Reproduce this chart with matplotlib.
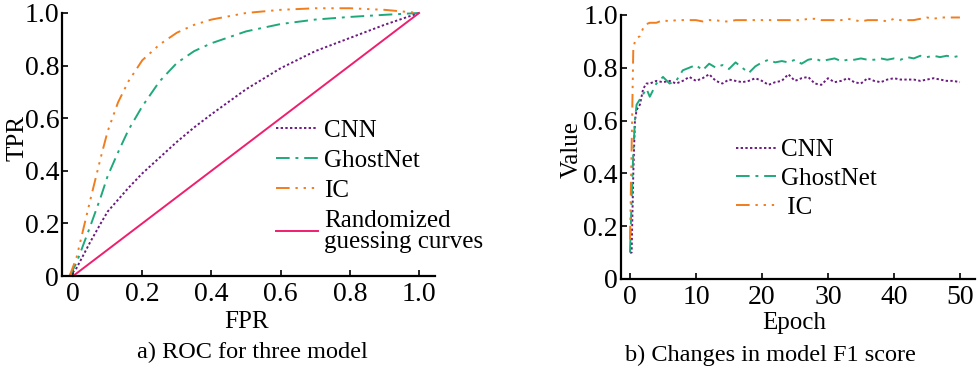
import matplotlib
matplotlib.use('Agg')
import matplotlib.pyplot as plt

plt.rcParams['font.family'] = ['Liberation Serif', 'DejaVu Serif']

# ---- ROC data (panel a) ----
fpr = [-0.01, 0.01, 0.03, 0.05, 0.08, 0.1, 0.13, 0.16, 0.2, 0.25, 0.3, 0.35,
       0.4, 0.5, 0.6, 0.7, 0.8, 0.9, 1.0]
tpr_cnn = [0, 0.03, 0.08, 0.13, 0.20, 0.245, 0.29, 0.335, 0.39, 0.45, 0.51,
           0.565, 0.615, 0.71, 0.79, 0.855, 0.905, 0.955, 1.0]
tpr_ghost = [0, 0.05, 0.12, 0.19, 0.30, 0.38, 0.47, 0.555, 0.645, 0.74, 0.81,
             0.855, 0.885, 0.93, 0.958, 0.975, 0.985, 0.993, 1.0]
tpr_ic = [0, 0.07, 0.18, 0.29, 0.45, 0.55, 0.66, 0.74, 0.82, 0.88, 0.925,
          0.955, 0.975, 1.0, 1.012, 1.018, 1.018, 1.012, 1.0]
rand_x = [0, 1.0]
rand_y = [0, 1.0]

# ---- F1 data (panel b) ----
epochs = [0, 0.25, 0.5, 0.75, 1, 1.5, 2, 2.5] + list(range(3, 51))
f1_cnn = [0.10, 0.10, 0.40, 0.60, 0.64, 0.66, 0.72, 0.74,
          0.74, 0.75, 0.745, 0.75, 0.74, 0.75, 0.765, 0.75, 0.76, 0.775,
          0.75, 0.74, 0.755, 0.75, 0.745, 0.75, 0.76, 0.75, 0.735, 0.745,
          0.75, 0.775, 0.75, 0.76, 0.765, 0.74, 0.735, 0.76, 0.745, 0.75,
          0.76, 0.745, 0.74, 0.76, 0.75, 0.745, 0.755, 0.76, 0.755, 0.755,
          0.755, 0.75, 0.755, 0.76, 0.755, 0.75, 0.75, 0.745]
f1_ghost = [0.10, 0.30, 0.48, 0.60, 0.66, 0.68, 0.70, 0.72,
            0.69, 0.74, 0.765, 0.74, 0.75, 0.79, 0.80, 0.81, 0.79, 0.815,
            0.80, 0.81, 0.795, 0.82, 0.80, 0.78, 0.805, 0.82, 0.83, 0.82,
            0.825, 0.82, 0.83, 0.815, 0.83, 0.835, 0.825, 0.83, 0.835, 0.825,
            0.83, 0.83, 0.835, 0.83, 0.83, 0.835, 0.83, 0.835, 0.83, 0.84,
            0.835, 0.845, 0.84, 0.845, 0.84, 0.845, 0.84, 0.845]
f1_ic = [0.15, 0.50, 0.87, 0.90, 0.91, 0.92, 0.95, 0.965,
         0.97, 0.97, 0.98, 0.975, 0.98, 0.98, 0.98, 0.98, 0.975, 0.98,
         0.98, 0.975, 0.975, 0.98, 0.98, 0.98, 0.98, 0.98, 0.98, 0.98,
         0.98, 0.98, 0.98, 0.98, 0.985, 0.985, 0.98, 0.98, 0.98, 0.98,
         0.985, 0.98, 0.975, 0.98, 0.98, 0.98, 0.975, 0.985, 0.98, 0.98,
         0.98, 0.985, 0.99, 0.985, 0.99, 0.99, 0.99, 0.99]

c_cnn = '#6b1a80'
c_ghost = '#1fa97b'
c_ic = '#f07d1e'
c_rand = '#f01e6e'

ls_cnn = (0, (1.2, 1.2))
ls_ghost = (0, (7, 3, 1.5, 3))
ls_ic = (0, (7, 3, 1.2, 3, 1.2, 3, 1.2, 3))
serif = ['Liberation Serif', 'DejaVu Serif']

fig = plt.figure(figsize=(9.79, 3.71), dpi=100)
ax1 = fig.add_axes([0.0633, 0.256, 0.381, 0.709])
ax2 = fig.add_axes([0.634, 0.248, 0.362, 0.712])

ax1.plot(fpr, tpr_cnn, color=c_cnn, ls=ls_cnn, lw=1.4, label='CNN', clip_on=False)
ax1.plot(fpr, tpr_ghost, color=c_ghost, ls=ls_ghost, lw=1.4, label='GhostNet', clip_on=False)
ax1.plot(fpr, tpr_ic, color=c_ic, ls=ls_ic, lw=1.4, label='IC', clip_on=False)
ax1.plot(rand_x, rand_y, color=c_rand, lw=1.4, label='Randomized\nguessing curves', clip_on=False)
ax1.set_xlim(-0.032, 1.046)
ax1.set_ylim(0, 1.0)
ax1.set_xticks([0, 0.2, 0.4, 0.6, 0.8, 1.0])
ax1.set_xticklabels(['0', '0.2', '0.4', '0.6', '0.8', '1.0'])
ax1.set_yticks([0, 0.2, 0.4, 0.6, 0.8, 1.0])
ax1.set_yticklabels(['0', '0.2', '0.4', '0.6', '0.8', '1.0'])
ax1.set_xlabel('FPR', fontsize=18)
ax1.set_ylabel('TPR', fontsize=18)
ax1.xaxis.set_label_coords(0.496, -0.175)
ax1.xaxis.label.set_va('center')
ax1.yaxis.set_label_coords(-0.118, 0.525)
ax1.yaxis.label.set_va('center')
leg1 = ax1.legend(loc='upper left', bbox_to_anchor=(0.573, 0.595), frameon=False,
                  fontsize=18, handlelength=1.7, handletextpad=0.25,
                  labelspacing=0.3, borderpad=0, borderaxespad=0)
for t in leg1.get_texts():
    t.set_linespacing(0.95)

ax2.plot(epochs, f1_cnn, color=c_cnn, ls=ls_cnn, lw=1.4, label='CNN')
ax2.plot(epochs, f1_ghost, color=c_ghost, ls=ls_ghost, lw=1.4, label='GhostNet')
ax2.plot(epochs, f1_ic, color=c_ic, ls=ls_ic, lw=1.4, label=' IC')
ax2.set_xlim(-1.41, 52.3)
ax2.set_ylim(0, 1.0)
ax2.set_xticks([0, 10, 20, 30, 40, 50])
ax2.set_yticks([0, 0.2, 0.4, 0.6, 0.8, 1.0])
ax2.set_yticklabels(['0', '0.2', '0.4', '0.6', '0.8', '1.0'])
ax2.set_xlabel('Epoch', fontsize=18)
ax2.set_ylabel('Value', fontsize=18)
ax2.xaxis.set_label_coords(0.49, -0.165)
ax2.xaxis.label.set_va('center')
ax2.yaxis.set_label_coords(-0.137, 0.489)
ax2.yaxis.label.set_va('center')
ax2.legend(loc='upper left', bbox_to_anchor=(0.325, 0.53), frameon=False,
           fontsize=18, handlelength=1.6, handletextpad=0.2,
           labelspacing=0.25, borderpad=0, borderaxespad=0)

for ax in (ax1, ax2):
    ax.spines['top'].set_visible(False)
    ax.spines['right'].set_visible(False)
    ax.spines['left'].set_linewidth(1.6)
    ax.spines['bottom'].set_linewidth(1.6)
    ax.tick_params(direction='in', length=4, width=1.2, labelsize=20)
    ax.tick_params(axis='y', pad=2)
    ax.tick_params(axis='x', pad=4)

fig.text(0.258, 0.051, 'a) ROC for three model', fontsize=17.5, family=serif,
         ha='center', va='center')
fig.text(0.787, 0.043, 'b) Changes in model F1 score', fontsize=17.5, family=serif,
         ha='center', va='center')

fig.savefig('out.png', dpi=100)
